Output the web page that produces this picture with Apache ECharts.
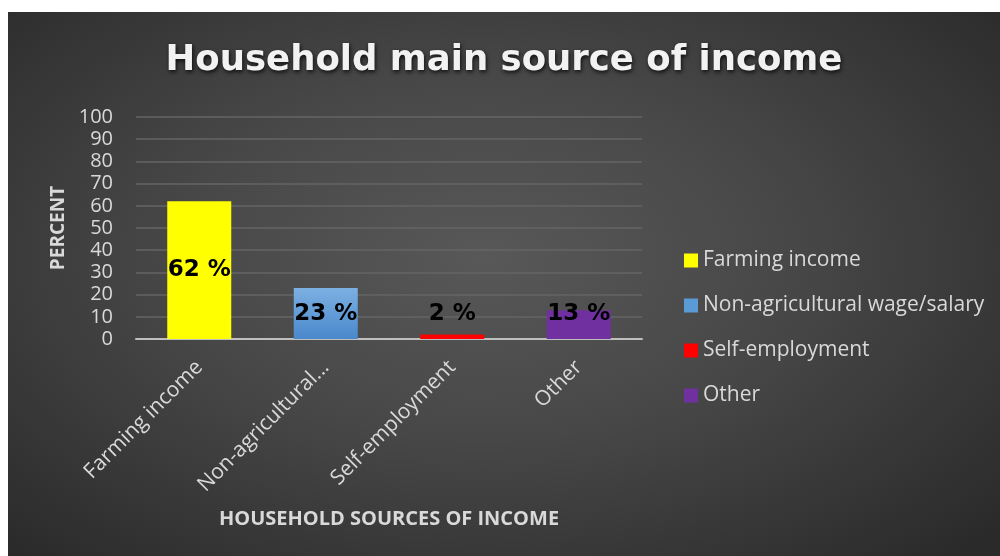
<!DOCTYPE html>
<html>
<head>
<meta charset="utf-8">
<script src="https://cdn.jsdelivr.net/npm/echarts@6/dist/echarts.min.js"></script>
<style>
html,body{margin:0;padding:0;background:#ffffff;width:1000px;height:556px;overflow:hidden;}
#chart{position:absolute;left:8px;top:12px;width:992px;height:544px;
background:radial-gradient(ellipse 70% 75% at 48% 45%, #585858 0%, #474747 45%, #2a2a2a 100%);}
</style>
</head>
<body>
<div id="chart"></div>
<script>
var categories = ['Farming income', 'Non-agricultural wage/salary', 'Self-employment', 'Other'];
var xTickLabels = ['Farming income', 'Non-agricultural...', 'Self-employment', 'Other'];
var values = [62, 23, 2, 13];
var colors = ['#ffff00', '#5b9bd5', '#ff0000', '#7030a0'];
var yTicks = [0, 10, 20, 30, 40, 50, 60, 70, 80, 90, 100];

var chart = echarts.init(document.getElementById('chart'), null, {renderer: 'canvas'});

var series = categories.map(function (name, i) {
  var data = values.map(function (v, j) { return j === i ? v : '-'; });
  var color = colors[i];
  if (i === 1) {
    color = new echarts.graphic.LinearGradient(0, 0, 0, 1, [
      {offset: 0, color: '#7cb0e2'},
      {offset: 1, color: '#4a88cc'}
    ]);
  }
  return {
    name: name,
    type: 'bar',
    stack: 'total',
    barWidth: 64,
    data: data,
    itemStyle: {color: color},
    label: {
      show: true,
      position: i === 0 ? 'inside' : 'insideBottom',
      distance: 13,
      formatter: '{c} %',
      color: '#000000',
      fontFamily: 'DejaVu Sans',
      fontWeight: 'bold',
      fontSize: 23
    }
  };
});

var option = {
  animation: false,
  backgroundColor: 'transparent',
  title: {
    text: 'Household main source of income',
    left: 'center',
    top: 26,
    textStyle: {
      color: '#f2f2f2',
      fontFamily: 'DejaVu Sans',
      fontWeight: 'bold',
      fontSize: 35.5,
      textShadowColor: 'rgba(0,0,0,0.8)',
      textShadowBlur: 4,
      textShadowOffsetX: 1,
      textShadowOffsetY: 2
    }
  },
  legend: {
    orient: 'vertical',
    left: 676,
    top: 238,
    padding: 0,
    itemWidth: 14,
    itemHeight: 14,
    itemGap: 24,
    icon: 'rect',
    data: categories.map(function (c, i) {
      return {name: c, itemStyle: {color: colors[i]}};
    }),
    textStyle: {
      color: '#d9d9d9',
      fontFamily: 'Open Sans',
      fontSize: 21,
      lineHeight: 21
    }
  },
  grid: {
    left: 128,
    top: 105,
    width: 506,
    height: 222,
    containLabel: false
  },
  xAxis: {
    type: 'category',
    data: categories,
    name: 'HOUSEHOLD SOURCES OF INCOME',
    nameLocation: 'middle',
    nameGap: 170,
    nameTextStyle: {
      color: '#d9d9d9',
      fontFamily: 'Open Sans',
      fontWeight: 'bold',
      fontSize: 20
    },
    axisLine: {show: true, lineStyle: {color: '#bfbfbf', width: 2}},
    axisTick: {show: false},
    axisLabel: {
      rotate: 45,
      margin: 25,
      color: '#d9d9d9',
      fontFamily: 'Open Sans',
      fontSize: 21,
      interval: 0,
      formatter: function (v, idx) { return xTickLabels[idx]; }
    }
  },
  yAxis: {
    type: 'value',
    min: yTicks[0],
    max: yTicks[yTicks.length - 1],
    interval: 10,
    name: 'PERCENT',
    nameLocation: 'middle',
    nameRotate: 90,
    nameGap: 63,
    nameTextStyle: {
      color: '#d9d9d9',
      fontFamily: 'Open Sans',
      fontWeight: 'bold',
      fontSize: 19
    },
    axisLine: {show: false},
    axisTick: {show: false},
    axisLabel: {
      margin: 23,
      color: '#d9d9d9',
      fontFamily: 'Open Sans',
      fontSize: 20
    },
    splitLine: {show: true, lineStyle: {color: '#646464', width: 1.5}}
  },
  series: series
};

chart.setOption(option);
</script>
</body>
</html>
